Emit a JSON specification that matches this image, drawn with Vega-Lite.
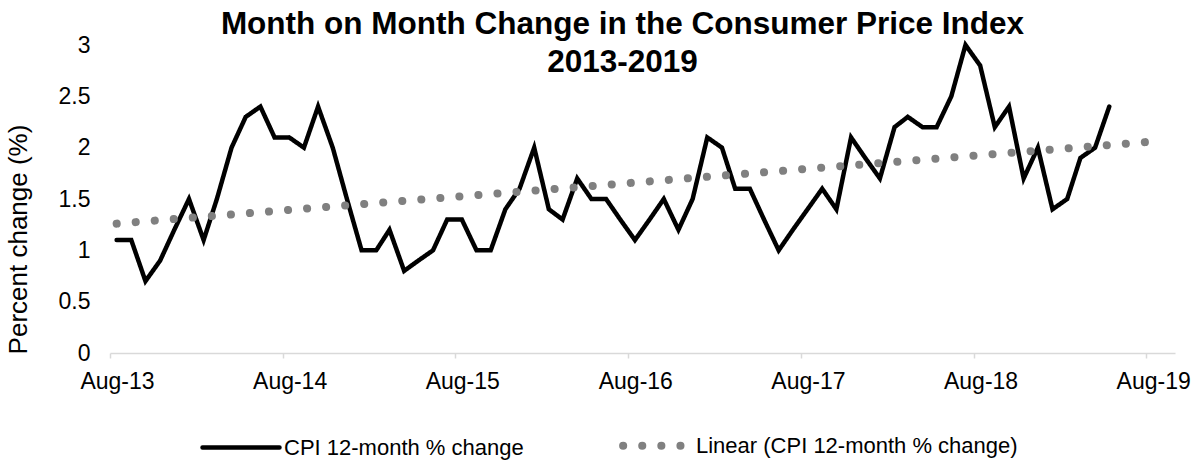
{
  "$schema": "https://vega.github.io/schema/vega-lite/v6.json",
  "width": 1065,
  "height": 308,
  "autosize": "none",
  "padding": {"left": 110, "top": 45, "right": 24, "bottom": 112},
  "background": "white",
  "config": {
    "view": {"stroke": null},
    "font": "Liberation Sans",
    "axis": {"grid": false, "labelFont": "Liberation Sans", "titleFont": "Liberation Sans", "labelColor": "#000000", "titleColor": "#000000"}
  },
  "title": {
    "text": ["Month on Month Change in the Consumer Price Index", "2013-2019"],
    "font": "Liberation Sans",
    "fontSize": 31.5,
    "fontWeight": "bold",
    "color": "#000000",
    "anchor": "middle",
    "lineHeight": 38,
    "dx": -20,
    "offset": -44
  },
  "data": {
    "values": [
      {"month": "2013-08-15", "value": 1.1, "series": "CPI 12-month % change"},
      {"month": "2013-09-15", "value": 1.1, "series": "CPI 12-month % change"},
      {"month": "2013-10-15", "value": 0.7, "series": "CPI 12-month % change"},
      {"month": "2013-11-15", "value": 0.9, "series": "CPI 12-month % change"},
      {"month": "2013-12-15", "value": 1.2, "series": "CPI 12-month % change"},
      {"month": "2014-01-15", "value": 1.5, "series": "CPI 12-month % change"},
      {"month": "2014-02-15", "value": 1.1, "series": "CPI 12-month % change"},
      {"month": "2014-03-15", "value": 1.5, "series": "CPI 12-month % change"},
      {"month": "2014-04-15", "value": 2.0, "series": "CPI 12-month % change"},
      {"month": "2014-05-15", "value": 2.3, "series": "CPI 12-month % change"},
      {"month": "2014-06-15", "value": 2.4, "series": "CPI 12-month % change"},
      {"month": "2014-07-15", "value": 2.1, "series": "CPI 12-month % change"},
      {"month": "2014-08-15", "value": 2.1, "series": "CPI 12-month % change"},
      {"month": "2014-09-15", "value": 2.0, "series": "CPI 12-month % change"},
      {"month": "2014-10-15", "value": 2.4, "series": "CPI 12-month % change"},
      {"month": "2014-11-15", "value": 2.0, "series": "CPI 12-month % change"},
      {"month": "2014-12-15", "value": 1.5, "series": "CPI 12-month % change"},
      {"month": "2015-01-15", "value": 1.0, "series": "CPI 12-month % change"},
      {"month": "2015-02-15", "value": 1.0, "series": "CPI 12-month % change"},
      {"month": "2015-03-15", "value": 1.2, "series": "CPI 12-month % change"},
      {"month": "2015-04-15", "value": 0.8, "series": "CPI 12-month % change"},
      {"month": "2015-05-15", "value": 0.9, "series": "CPI 12-month % change"},
      {"month": "2015-06-15", "value": 1.0, "series": "CPI 12-month % change"},
      {"month": "2015-07-15", "value": 1.3, "series": "CPI 12-month % change"},
      {"month": "2015-08-15", "value": 1.3, "series": "CPI 12-month % change"},
      {"month": "2015-09-15", "value": 1.0, "series": "CPI 12-month % change"},
      {"month": "2015-10-15", "value": 1.0, "series": "CPI 12-month % change"},
      {"month": "2015-11-15", "value": 1.4, "series": "CPI 12-month % change"},
      {"month": "2015-12-15", "value": 1.6, "series": "CPI 12-month % change"},
      {"month": "2016-01-15", "value": 2.0, "series": "CPI 12-month % change"},
      {"month": "2016-02-15", "value": 1.4, "series": "CPI 12-month % change"},
      {"month": "2016-03-15", "value": 1.3, "series": "CPI 12-month % change"},
      {"month": "2016-04-15", "value": 1.7, "series": "CPI 12-month % change"},
      {"month": "2016-05-15", "value": 1.5, "series": "CPI 12-month % change"},
      {"month": "2016-06-15", "value": 1.5, "series": "CPI 12-month % change"},
      {"month": "2016-07-15", "value": 1.3, "series": "CPI 12-month % change"},
      {"month": "2016-08-15", "value": 1.1, "series": "CPI 12-month % change"},
      {"month": "2016-09-15", "value": 1.3, "series": "CPI 12-month % change"},
      {"month": "2016-10-15", "value": 1.5, "series": "CPI 12-month % change"},
      {"month": "2016-11-15", "value": 1.2, "series": "CPI 12-month % change"},
      {"month": "2016-12-15", "value": 1.5, "series": "CPI 12-month % change"},
      {"month": "2017-01-15", "value": 2.1, "series": "CPI 12-month % change"},
      {"month": "2017-02-15", "value": 2.0, "series": "CPI 12-month % change"},
      {"month": "2017-03-15", "value": 1.6, "series": "CPI 12-month % change"},
      {"month": "2017-04-15", "value": 1.6, "series": "CPI 12-month % change"},
      {"month": "2017-05-15", "value": 1.3, "series": "CPI 12-month % change"},
      {"month": "2017-06-15", "value": 1.0, "series": "CPI 12-month % change"},
      {"month": "2017-07-15", "value": 1.2, "series": "CPI 12-month % change"},
      {"month": "2017-08-15", "value": 1.4, "series": "CPI 12-month % change"},
      {"month": "2017-09-15", "value": 1.6, "series": "CPI 12-month % change"},
      {"month": "2017-10-15", "value": 1.4, "series": "CPI 12-month % change"},
      {"month": "2017-11-15", "value": 2.1, "series": "CPI 12-month % change"},
      {"month": "2017-12-15", "value": 1.9, "series": "CPI 12-month % change"},
      {"month": "2018-01-15", "value": 1.7, "series": "CPI 12-month % change"},
      {"month": "2018-02-15", "value": 2.2, "series": "CPI 12-month % change"},
      {"month": "2018-03-15", "value": 2.3, "series": "CPI 12-month % change"},
      {"month": "2018-04-15", "value": 2.2, "series": "CPI 12-month % change"},
      {"month": "2018-05-15", "value": 2.2, "series": "CPI 12-month % change"},
      {"month": "2018-06-15", "value": 2.5, "series": "CPI 12-month % change"},
      {"month": "2018-07-15", "value": 3.0, "series": "CPI 12-month % change"},
      {"month": "2018-08-15", "value": 2.8, "series": "CPI 12-month % change"},
      {"month": "2018-09-15", "value": 2.2, "series": "CPI 12-month % change"},
      {"month": "2018-10-15", "value": 2.4, "series": "CPI 12-month % change"},
      {"month": "2018-11-15", "value": 1.7, "series": "CPI 12-month % change"},
      {"month": "2018-12-15", "value": 2.0, "series": "CPI 12-month % change"},
      {"month": "2019-01-15", "value": 1.4, "series": "CPI 12-month % change"},
      {"month": "2019-02-15", "value": 1.5, "series": "CPI 12-month % change"},
      {"month": "2019-03-15", "value": 1.9, "series": "CPI 12-month % change"},
      {"month": "2019-04-15", "value": 2.0, "series": "CPI 12-month % change"},
      {"month": "2019-05-15", "value": 2.4, "series": "CPI 12-month % change"},
      {"month": "2013-08-15", "value": 1.26, "series": "Linear (CPI 12-month % change)"},
      {"month": "2019-08-15", "value": 2.06, "series": "Linear (CPI 12-month % change)"}
    ]
  },
  "mark": {"type": "line", "strokeCap": "round", "strokeJoin": "miter"},
  "encoding": {
    "x": {
      "field": "month",
      "type": "temporal",
      "scale": {"domain": [{"year": 2013, "month": 8, "date": 1}, {"year": 2019, "month": 10, "date": 1}]},
      "axis": {
        "title": null,
        "values": [
          {"year": 2013, "month": 8, "date": 1},
          {"year": 2014, "month": 8, "date": 1},
          {"year": 2015, "month": 8, "date": 1},
          {"year": 2016, "month": 8, "date": 1},
          {"year": 2017, "month": 8, "date": 1},
          {"year": 2018, "month": 8, "date": 1},
          {"year": 2019, "month": 8, "date": 1}
        ],
        "format": "%b-%y",
        "labelFontSize": 23,
        "labelOffset": 7,
        "labelPadding": 12,
        "labelFlush": false,
        "labelOverlap": false,
        "domainColor": "#d9d9d9",
        "domainWidth": 1.5,
        "tickColor": "#d9d9d9",
        "tickWidth": 1.5,
        "tickSize": 5
      }
    },
    "y": {
      "field": "value",
      "type": "quantitative",
      "scale": {"domain": [0, 3], "nice": false, "zero": true},
      "axis": {
        "title": "Percent change (%)",
        "values": [0, 0.5, 1, 1.5, 2, 2.5, 3],
        "format": "~g",
        "labelFontSize": 23,
        "labelPadding": 20,
        "domain": false,
        "ticks": false,
        "titleFontSize": 26,
        "titleFontWeight": "normal",
        "titleX": -79,
        "titleY": 194
      }
    },
    "color": {
      "field": "series",
      "type": "nominal",
      "scale": {"domain": ["CPI 12-month % change", "Linear (CPI 12-month % change)"], "range": ["#000000", "#808080"]},
      "legend": {
        "orient": "none",
        "legendX": 90,
        "legendY": 358,
        "direction": "horizontal",
        "title": null,
        "padding": 0,
        "labelFont": "Liberation Sans",
        "labelFontSize": 22,
        "labelColor": "#000000",
        "labelOffset": 2,
        "labelLimit": 500,
        "columnPadding": 73,
        "symbolType": "stroke",
        "symbolSize": 5929,
        "symbolStrokeWidth": 6,
        "symbolDashOffset": 9,
        "encoding": {"symbols": {"strokeCap": {"value": "round"}}}
      }
    },
    "strokeDash": {
      "field": "series",
      "type": "nominal",
      "scale": {"domain": ["CPI 12-month % change", "Linear (CPI 12-month % change)"], "range": [[1, 0], [0.1, 19]]},
      "legend": null
    },
    "strokeWidth": {
      "field": "series",
      "type": "nominal",
      "scale": {"domain": ["CPI 12-month % change", "Linear (CPI 12-month % change)"], "range": [4.5, 8]},
      "legend": null
    }
  }
}
